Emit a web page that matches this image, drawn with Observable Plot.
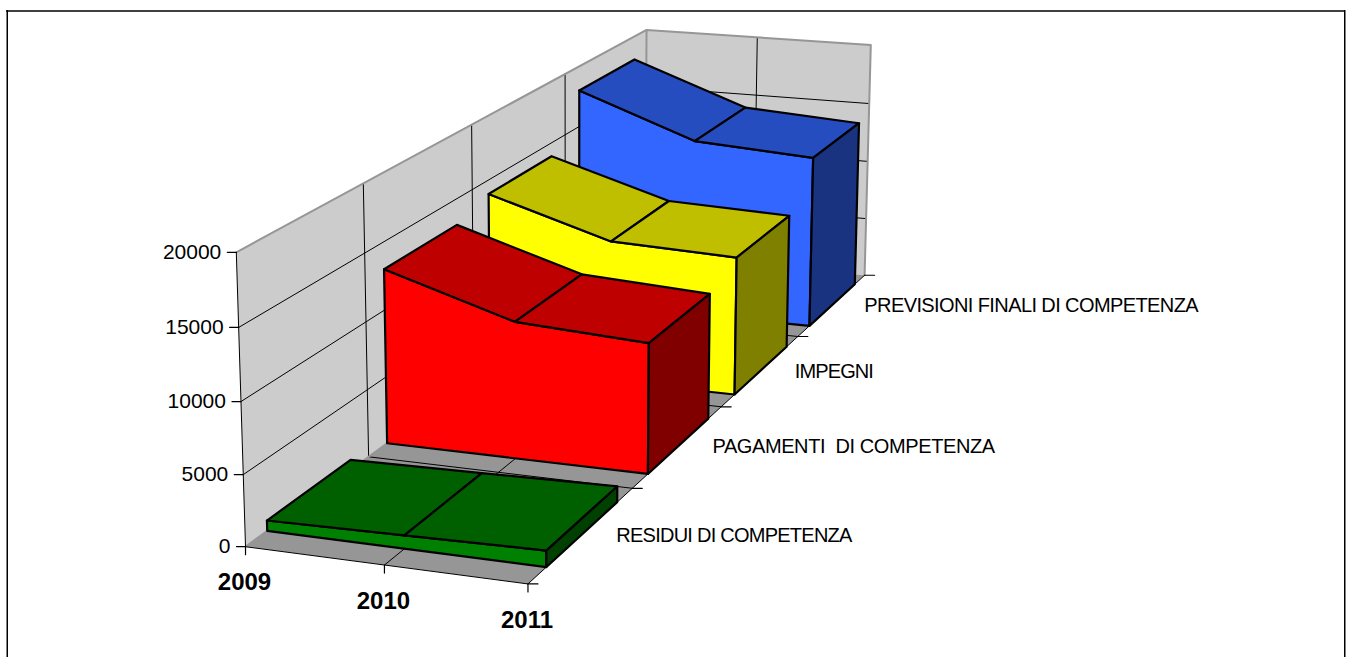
<!DOCTYPE html>
<html><head><meta charset="utf-8">
<script src="https://cdn.jsdelivr.net/npm/d3@7"></script>
<script src="https://cdn.jsdelivr.net/npm/@observablehq/plot@0.6"></script>
<style>
html,body{margin:0;padding:0;background:#fff;overflow:hidden}
svg{display:block}
</style></head><body><div id="chart"></div>
<script>
const years=[2009,2010,2011];
const seriesNames=["RESIDUI DI COMPETENZA","PAGAMENTI  DI COMPETENZA","IMPEGNI","PREVISIONI FINALI DI COMPETENZA"];
const residui=[730,920,1130];
const pagamenti=[13000,10100,9550];
const impegni=[13900,11050,10700];
const previsioni=[18000,14550,13950];
const yTicks=[0,5000,10000,15000,20000];
const yMax=20000;

// camera calibration: axis position (u,v,w) -> screen position
const calib=[[0,0,0,245,546.5],[.5,0,0,385,565],[1,0,0,528.3,583.3],[0,0,1,235,251],[0,1,1,645,30],[1,1,1,870.7,45],[1,1,0,865,274.7],
[1,.25,0,630,488],[1,.5,0,720,406.7],[1,.75,0,797,335],[0,.25,1,363.3,183.3],[0,.5,1,471.7,124.3],[0,.75,1,565,72.7]];
function solveCamera(pts){
  const n=11,A=Array.from({length:n},()=>Array(n+1).fill(0));
  const add=(r,b)=>{for(let i=0;i<n;i++){for(let j=0;j<n;j++)A[i][j]+=r[i]*r[j];A[i][n]+=r[i]*b;}};
  for(const [u,v,w,x,y] of pts){
    add([u,v,w,1,0,0,0,0,-x*u,-x*v,-x*w],x);
    add([0,0,0,0,u,v,w,1,-y*u,-y*v,-y*w],y);
  }
  for(let i=0;i<n;i++){
    let p=i;for(let k=i+1;k<n;k++)if(Math.abs(A[k][i])>Math.abs(A[p][i]))p=k;
    [A[i],A[p]]=[A[p],A[i]];
    for(let k=0;k<n;k++)if(k!==i){const f=A[k][i]/A[i][i];for(let j=i;j<=n;j++)A[k][j]-=f*A[i][j];}
  }
  return A.map((r,i)=>r[n]/r[i]);
}
const m=solveCamera(calib);
const project=(u,v,w)=>{const d=m[8]*u+m[9]*v+m[10]*w+1;return [(m[0]*u+m[1]*v+m[2]*w+m[3])/d,(m[4]*u+m[5]*v+m[6]*w+m[7])/d];};

const uOf=i=>i/(years.length-1), wOf=val=>val/yMax;
const vFront=i=>(i+.165)/seriesNames.length, vBack=i=>(i+.845)/seriesNames.length;

function face(rows,id,pts,fill,stroke){
  for(const [u,v,w] of pts){const [x,y]=project(u,v,w);rows.push({id,x,y,fill,stroke});}
}
const wallRows=[];
face(wallRows,"left",[[0,0,0],[0,1,0],[0,1,1],[0,0,1]],"#cccccc","none");
face(wallRows,"back",[[0,1,0],[1,1,0],[1,1,1],[0,1,1]],"#cccccc","none");
face(wallRows,"floor",[[0,0,0],[1,0,0],[1,1,0],[0,1,0]],"#969696","none");
const lineRows=[];
yTicks.slice(1,-1).forEach((t,i)=>{face(lineRows,"gl"+i,[[0,0,wOf(t)],[0,1,wOf(t)],[1,1,wOf(t)]],"none","#000");});
seriesNames.slice(0,-1).forEach((s,i)=>{const v=(i+1)/seriesNames.length;face(lineRows,"gv"+i,[[0,v,1],[0,v,0],[1,v,0]],"none","#000");});
face(lineRows,"gu",[[.5,1,1],[.5,1,0],[.5,0,0]],"none","#000");
const borderRows=[];
face(borderRows,"bt",[[0,0,1],[0,1,1],[1,1,1],[1,1,0]],"none","#969696");
face(borderRows,"bb",[[0,1,1],[0,1,0],[0,0,0]],"none","#969696");
const edgeRows=[];
face(edgeRows,"e1",[[0,0,1],[0,0,0],[1,0,0],[1,1,0]],"none","#000");
const tickRows=[];
yTicks.forEach(t=>{const [x,y]=project(0,0,wOf(t));tickRows.push({id:"y"+t,x,y},{id:"y"+t,x:x-9,y});});
years.forEach((t,i)=>{const [x,y]=project(uOf(i),0,0);tickRows.push({id:"x"+t,x,y},{id:"x"+t,x,y:y+8});});
[0,1,2,3,4].forEach(i=>{const [x,y]=project(1,i/4,0);tickRows.push({id:"d"+i,x,y},{id:"d"+i,x:x+10,y});});

const palette=[
 ["#008000","#006000","#004000"],
 ["#ff0000","#bf0000","#800000"],
 ["#ffff00","#bfbf00","#808000"],
 ["#3366ff","#264dbf","#193380"]];
const allSeries=[residui,pagamenti,impegni,previsioni];
const slabRows=[];
[3,2,1,0].forEach(s=>{
  const vals=allSeries[s],vf=vFront(s),vb=vBack(s),[cf,ct,cs]=palette[s];
  const last=vals.length-1;
  const front=[];vals.forEach((val,i)=>front.push([uOf(i),vf,wOf(val)]));
  face(slabRows,"f"+s,[[0,vf,0],...front,[1,vf,0]],cf,"#000");
  for(let i=0;i<last;i++)face(slabRows,"t"+s+i,[[uOf(i),vf,wOf(vals[i])],[uOf(i+1),vf,wOf(vals[i+1])],[uOf(i+1),vb,wOf(vals[i+1])],[uOf(i),vb,wOf(vals[i])]],ct,"#000");
  face(slabRows,"s"+s,[[1,vf,0],[1,vb,0],[1,vb,wOf(vals[last])],[1,vf,wOf(vals[last])]],cs,"#000");
});
const yLabels=yTicks.map(t=>{const [x,y]=project(0,0,wOf(t));return {x:x-15,y,t:String(t)};});
const xLabels=years.map((t,i)=>{const [x,y]=project(uOf(i),0,0);return {x:x-1,y:y+36,t:String(t)};});
const sLabels=seriesNames.map((t,i)=>{const [x,y]=project(1,(i+.5)/4,0);return {x:x+(i===3?32:34),y:y+1,t};});
const labelSpacing=[-0.75,-0.4,-0.9,-0.6];

const closed=(rows,sw)=>Plot.line(rows,{x:"x",y:"y",z:"id",fill:"fill",stroke:"stroke",strokeWidth:sw,curve:"linear-closed",strokeLinejoin:"round"});
const open=(rows,sw,color)=>Plot.line(rows,{x:"x",y:"y",z:"id",stroke:color||"stroke",strokeWidth:sw,curve:"linear"});
const font="Liberation Sans, Arial, sans-serif";
const chart=Plot.plot({
  width:1347,height:657,margin:0,
  x:{domain:[0,1347],range:[0,1347],axis:null},
  y:{domain:[0,657],range:[0,657],axis:null},
  marks:[
    Plot.ruleY([10.5],{x1:6,x2:1345,stroke:"#000",strokeWidth:1.5}),
    Plot.ruleX([6.75,1344.25],{y1:10,y2:657,stroke:"#000",strokeWidth:1.5}),
    closed(wallRows,0),
    open(lineRows,1),
    open(borderRows,2),
    open(edgeRows,1,"#000"),
    open(tickRows,1.2,"#000"),
    closed(slabRows,2.2),
    Plot.text(yLabels,{x:"x",y:"y",text:"t",textAnchor:"end",fontSize:21,fontFamily:font,fill:"#000"}),
    Plot.text(xLabels,{x:"x",y:"y",text:"t",textAnchor:"middle",fontSize:24,fontWeight:"bold",fontFamily:font,fill:"#000"}),
    Plot.text(sLabels,{x:"x",y:"y",text:"t",textAnchor:"start",fontSize:20,fontFamily:font,fill:"#000",className:"series-label"})
  ]
});
document.getElementById("chart").appendChild(chart);
d3.select(chart).selectAll(".series-label text").style("letter-spacing",(d,i)=>labelSpacing[i]+"px");
</script></body></html>
